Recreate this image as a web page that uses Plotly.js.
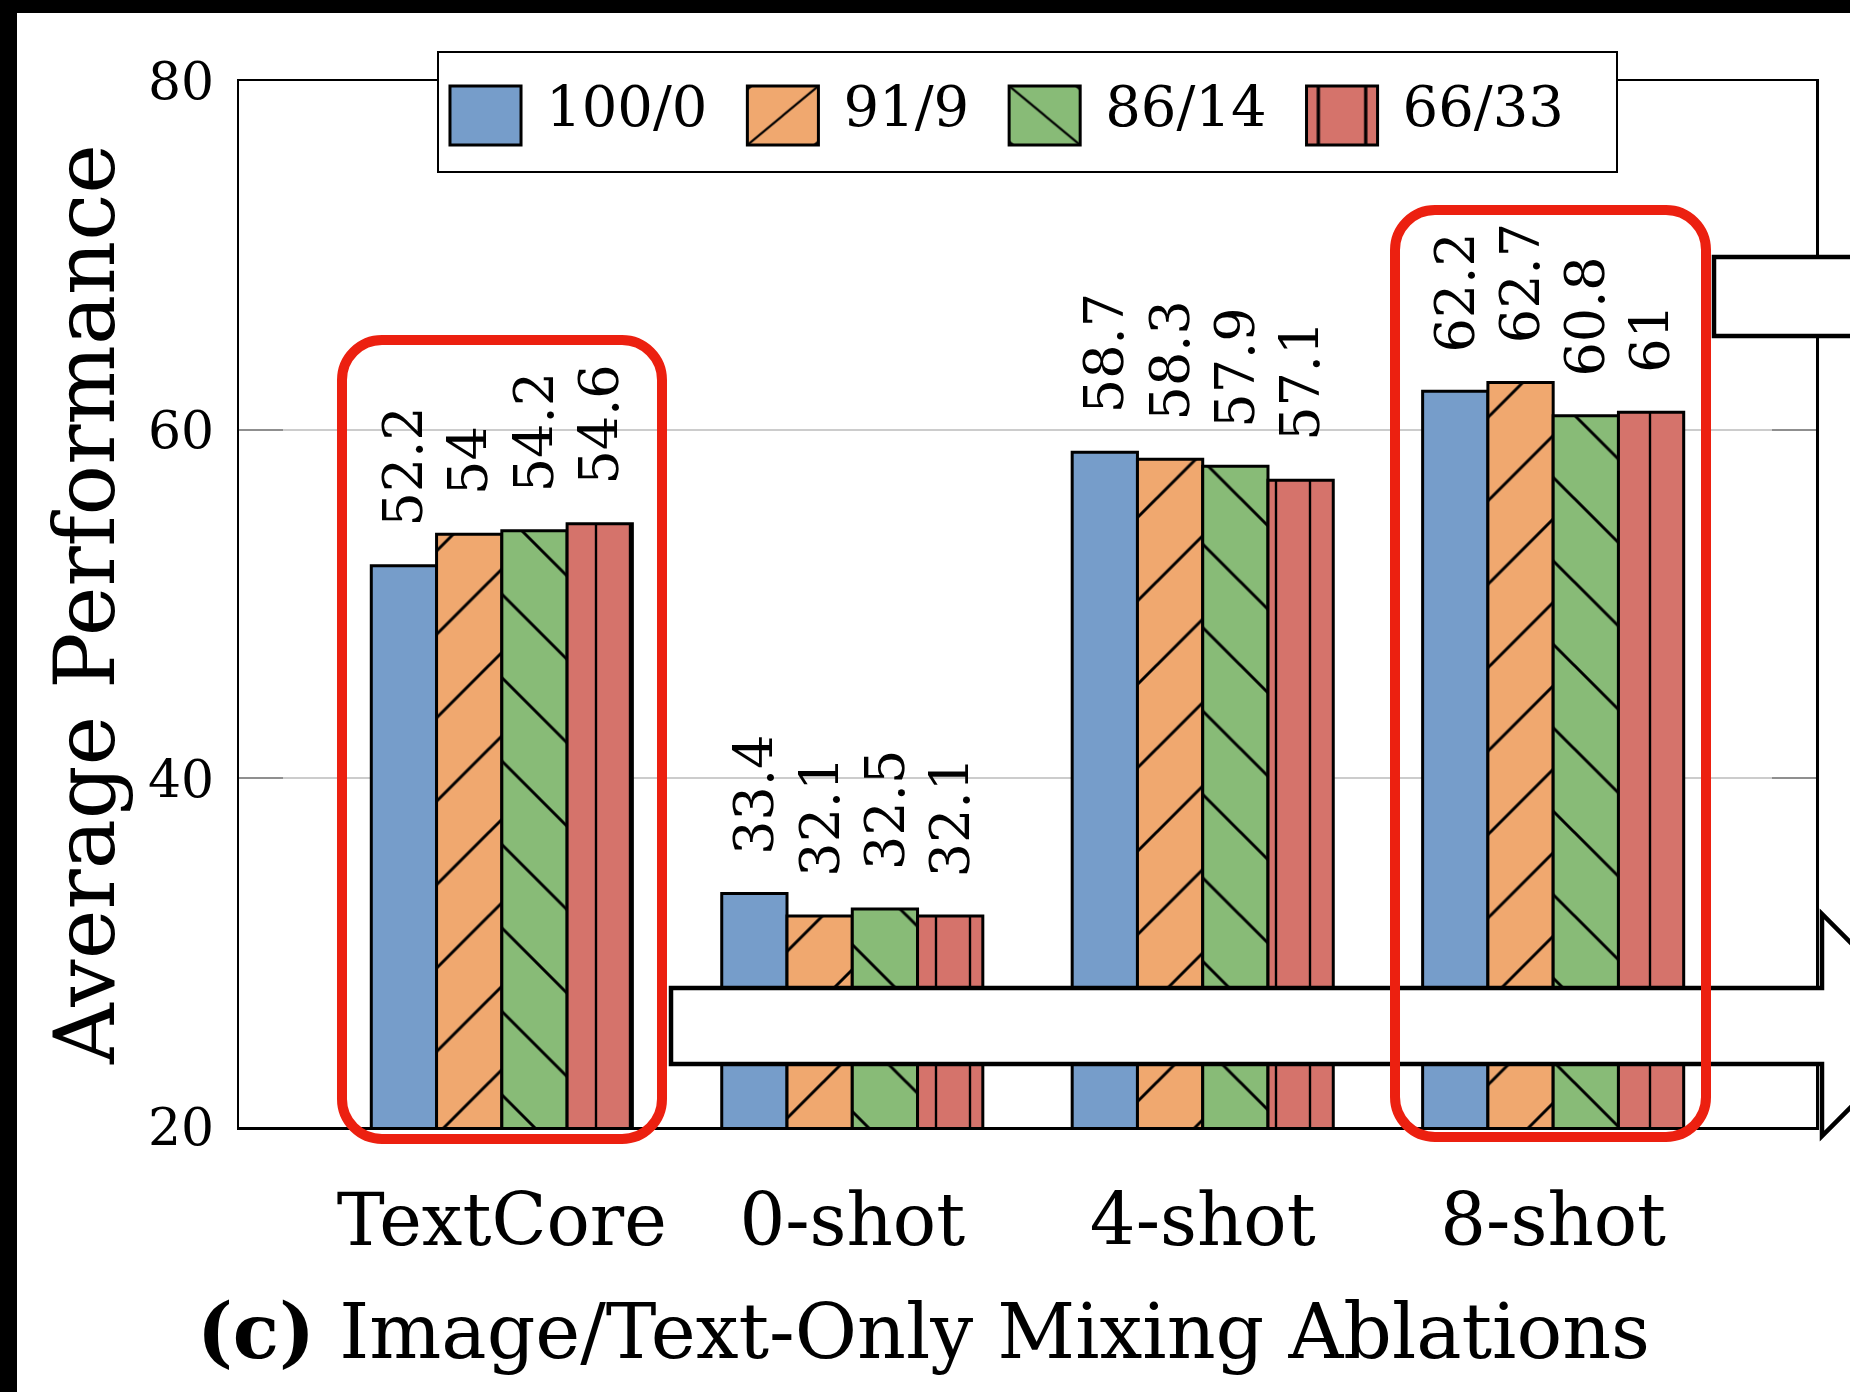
<!DOCTYPE html>
<html><head><meta charset="utf-8">
<script src="https://cdn.plot.ly/plotly-3.0.1.min.js"></script>
<style>
html,body{margin:0;padding:0;background:#000;width:1850px;height:1392px;overflow:hidden;}
#chart{position:absolute;left:17px;top:13px;width:1833px;height:1379px;background:#fff;}
</style></head><body><div id="chart"></div>
<script>
// ---------- data ----------
const categories = ['TextCore', '0-shot', '4-shot', '8-shot'];
const seriesNames = ['100/0', '91/9', '86/14', '66/33'];
const values_100_0 = [52.2, 33.4, 58.7, 62.2];
const values_91_9  = [54, 32.1, 58.3, 62.7];
const values_86_14 = [54.2, 32.5, 57.9, 60.8];
const values_66_33 = [54.6, 32.1, 57.1, 61];
const yTickValues = [20, 40, 60, 80];
const yTickLabels = ['20', '40', '60', '80'];
const yAxisTitle = 'Average Performance';
const chartTitle = '<b>(c)</b> Image/Text-Only Mixing Ablations';

// ---------- style ----------
const FONT = 'DejaVu Serif, serif';
const seriesValues = [values_100_0, values_91_9, values_86_14, values_66_33];
const colors = ['#769DCA', '#F0A86F', '#88BB77', '#D5736B'];
const patternShapes = ['', '/', '\\', '|'];
const patternSizes = [10, 59, 59, 34];
const patternSolidity = [0.3, 0.05, 0.05, 0.07];
const BARGAP = 0.255;
const barW = (1 - BARGAP) / seriesNames.length;

const data = seriesNames.map((name, i) => ({
  type: 'bar',
  name: name,
  x: categories,
  y: seriesValues[i],
  marker: {
    color: colors[i],
    line: {color: '#000', width: 3},
    pattern: patternShapes[i] ? {
      shape: patternShapes[i], size: patternSizes[i], solidity: patternSolidity[i],
      fgcolor: '#000', bgcolor: colors[i], fillmode: 'replace'
    } : {shape: ''}
  },
  hoverinfo: 'skip'
}));

// value labels above bars
const annotations = [];
seriesValues.forEach((vals, i) => {
  vals.forEach((v, j) => {
    annotations.push({
      xref: 'x', yref: 'y',
      x: j + (i - (seriesNames.length - 1) / 2) * barW,
      y: v,
      text: String(v),
      textangle: -90,
      showarrow: false,
      xanchor: 'center', yanchor: 'bottom',
      yshift: 37,
      font: {family: FONT, size: 54, color: '#000'}
    });
  });
});

// decorative overlay (page pixel -> paper coords)
const PL = 239, PR = 1816, PT = 81, PB = 1127;
const X = px => (px - PL) / (PR - PL);
const Y = py => (PB - py) / (PB - PT);
const P = (x, y) => X(x).toFixed(5) + ',' + Y(y).toFixed(5);
function roundRect(x0, y0, x1, y1, r) {
  const k = 0.448 * r;
  return 'M' + P(x0 + r, y0) + ' L' + P(x1 - r, y0) +
    ' C' + P(x1 - k, y0) + ' ' + P(x1, y0 + k) + ' ' + P(x1, y0 + r) +
    ' L' + P(x1, y1 - r) +
    ' C' + P(x1, y1 - k) + ' ' + P(x1 - k, y1) + ' ' + P(x1 - r, y1) +
    ' L' + P(x0 + r, y1) +
    ' C' + P(x0 + k, y1) + ' ' + P(x0, y1 - k) + ' ' + P(x0, y1 - r) +
    ' L' + P(x0, y0 + r) +
    ' C' + P(x0, y0 + k) + ' ' + P(x0 + k, y0) + ' ' + P(x0 + r, y0) + ' Z';
}
const shapes = [
  {type: 'rect', xref: 'paper', yref: 'paper', x0: X(1714), x1: X(1890), y0: Y(257), y1: Y(336),
   fillcolor: '#fff', line: {color: '#000', width: 4.5}, layer: 'above'},
  {type: 'path', xref: 'paper', yref: 'paper',
   path: 'M' + P(671, 988) + ' L' + P(1822, 988) + ' L' + P(1822, 914) + ' L' + P(1933, 1025) +
         ' L' + P(1822, 1136) + ' L' + P(1822, 1064) + ' L' + P(671, 1064) + ' Z',
   fillcolor: '#fff', line: {color: '#000', width: 4.5}, layer: 'above'},
  {type: 'path', xref: 'paper', yref: 'paper', path: roundRect(342, 340, 662, 1139, 40),
   fillcolor: 'rgba(0,0,0,0)', line: {color: '#EC2010', width: 10}, layer: 'above'},
  {type: 'path', xref: 'paper', yref: 'paper', path: roundRect(1395, 210, 1706, 1137, 40),
   fillcolor: 'rgba(0,0,0,0)', line: {color: '#EC2010', width: 10}, layer: 'above'}
];

const layout = {
  width: 1833, height: 1379,
  margin: {l: PL - 17, r: 1850 - PR, t: PT - 13, b: 1392 - PB, autoexpand: false},
  paper_bgcolor: '#fff', plot_bgcolor: '#fff',
  font: {family: FONT, color: '#000'},
  barmode: 'group', bargap: BARGAP, bargroupgap: 0,
  title: {
    text: chartTitle, font: {family: FONT, size: 76, color: '#000'},
    xref: 'container', x: 906.5 / 1833, xanchor: 'center',
    yref: 'container', y: 1 - (1305 - 13) / 1379, yanchor: 'top'
  },
  xaxis: {
    type: 'category', range: [-0.75, 3.75],
    showline: true, mirror: true, linecolor: '#000', linewidth: 2.5,
    ticks: '', showgrid: false, zeroline: false,
    tickfont: {family: FONT, size: 72, color: '#000'},
    ticklabelstandoff: 29
  },
  yaxis: {
    range: [20, 80], tickvals: yTickValues, ticktext: yTickLabels,
    showline: true, mirror: 'ticks', linecolor: '#000', linewidth: 2.5,
    ticks: 'inside', ticklen: 44, tickwidth: 2, tickcolor: '#8f8f8f',
    showgrid: true, gridcolor: '#cccccc', gridwidth: 2, zeroline: false,
    tickfont: {family: FONT, size: 52, color: '#000'},
    ticklabelstandoff: 12,
    title: {text: yAxisTitle, font: {family: FONT, size: 84, color: '#000'}, standoff: 6}
  },
  showlegend: true,
  legend: {
    orientation: 'h', x: 0.12, y: 1.03, xanchor: 'left', yanchor: 'top',
    bgcolor: '#fff', bordercolor: '#000', borderwidth: 2.5,
    font: {family: FONT, size: 56, color: '#000'},
    itemwidth: 121, traceorder: 'normal'
  },
  annotations: annotations,
  shapes: shapes
};

const gd = document.getElementById('chart');
Plotly.newPlot(gd, data, layout, {displayModeBar: false, staticPlot: true}).then(function () {
  // enlarge legend box & swatches to match the reference legend
  const leg = gd.querySelector('g.legend');
  if (!leg) return;
  const m = /translate\(\s*([-\d.e]+)[ ,]+([-\d.e]+)\s*\)/.exec(leg.getAttribute('transform') || '');
  if (!m) return;
  let lx = +m[1], ly = +m[2];
  const firstText = leg.querySelector('text.legendtext');
  if (!firstText) return;
  const ctm = firstText.getScreenCTM();
  const tx = +firstText.getAttribute('x') || 0, ty = +firstText.getAttribute('y') || 0;
  const curX = ctm.a * tx + ctm.c * ty + ctm.e;
  const curY = ctm.b * tx + ctm.d * ty + ctm.f;
  lx += 546 - curX; ly += 126 - curY;
  leg.setAttribute('transform', 'translate(' + lx + ',' + ly + ')');
  const bg = leg.querySelector('rect.bg');
  if (bg) {
    bg.setAttribute('x', (438 - 17) - lx);
    bg.setAttribute('y', (52 - 13) - ly);
    bg.setAttribute('width', 1179);
    bg.setAttribute('height', 120);
  }
  leg.querySelectorAll('[clip-path]').forEach(el => el.removeAttribute('clip-path'));
  leg.querySelectorAll('g.traces').forEach(function (t) {
    const txt = t.querySelector('text.legendtext');
    const x0 = +txt.getAttribute('x') || 0, y0 = +txt.getAttribute('y') || 0;
    t.querySelectorAll('g.legendpoints path').forEach(function (p) {
      p.setAttribute('transform', 'translate(' + (x0 - 60.5) + ',' + (y0 - 10.5) + ') scale(5.92,4.92)');
      p.setAttribute('vector-effect', 'non-scaling-stroke');
    });
  });
});
</script>
</body></html>
